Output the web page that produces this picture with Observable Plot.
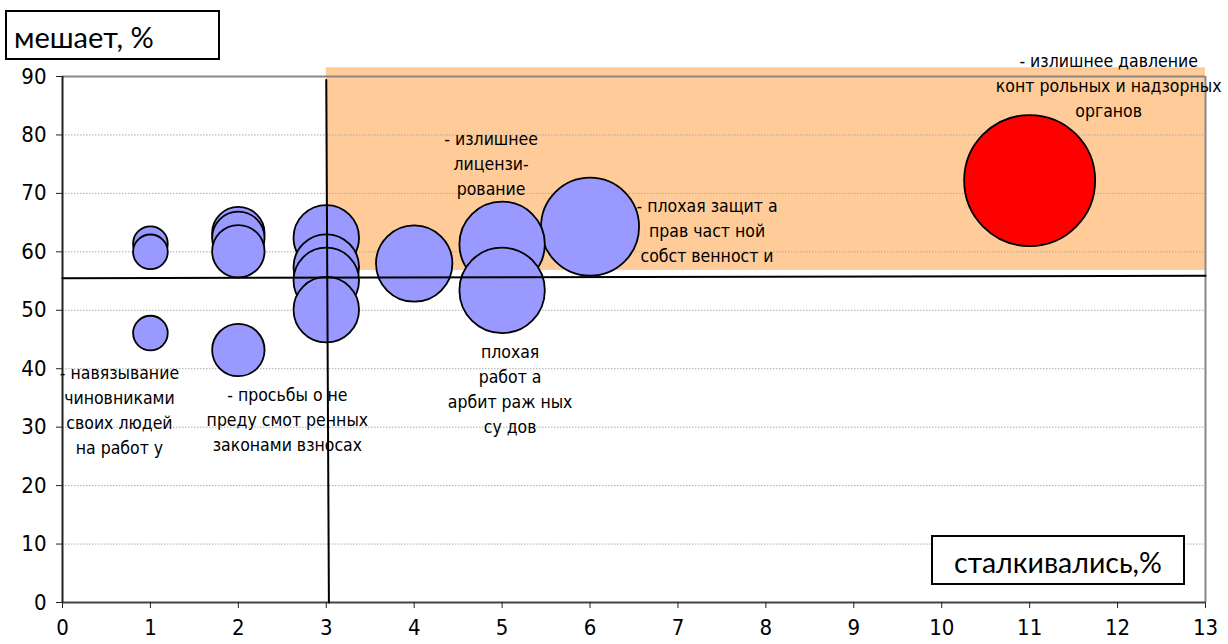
<!DOCTYPE html>
<html>
<head>
<meta charset="utf-8">
<script src="https://cdn.jsdelivr.net/npm/d3@7"></script>
<script src="https://cdn.jsdelivr.net/npm/@observablehq/plot@0.6"></script>
<style>
  html, body { margin: 0; padding: 0; background: #fff; }
  #wrap { position: relative; width: 1228px; height: 644px; overflow: hidden; }
  .axbox { position: absolute; box-sizing: border-box; border: 2px solid #000; background: #fff;
           font-family: Lato, "Open Sans", sans-serif; color: #000; white-space: nowrap; }
</style>
</head>
<body>
<div id="wrap"></div>
<script>
// ---- data ----
const xVals  = [1, 1, 1, 2, 2, 2, 2, 3, 3, 3, 3, 4, 5, 5, 6, 11];
const yVals  = [61.4, 60.0, 46.1, 63.2, 62.4, 60.1, 43.2, 62.4, 57.4, 55.1, 50.1, 58.0, 61.3, 53.4, 64.3, 72.2];
const sizes  = [7, 7, 7, 16, 16, 16, 16, 25, 25, 25, 25, 34, 42.5, 42.5, 56, 100];
const xTicks = [0, 1, 2, 3, 4, 5, 6, 7, 8, 9, 10, 11, 12, 13];
const yTicks = [0, 10, 20, 30, 40, 50, 60, 70, 80, 90];
const zoneX  = [3, 13];        // highlighted zone
const zoneY  = [56.8, 91.5];
const hLineX = [0, 13], hLineY = [55.5, 55.9];
const vLineX = [3, 3.03], vLineY = [89.4, 0];
const yTitle = "мешает, %";
const xTitle = "сталкивались,%";
const labelA = "- навязывание\nчиновниками\nсвоих людей\nна работ у";
const labelB = "- просьбы о не\nпреду смот ренных\nзаконами взносах";
const labelC = "- излишнее\nлицензи-\nрование";
const labelD = "- плохая защит а\nправ част ной\nсобст венност и";
const labelE = "плохая\nработ а\nарбит раж ных\nсу дов";
const labelF = "- излишнее давление\nконт рольных и надзорных\nорганов";

const bubbles = xVals.map((x, i) => ({x, y: yVals[i], size: sizes[i]}));
const maxSize = d3.max(sizes);
const zone = [{x1: zoneX[0], x2: zoneX[1], y1: zoneY[0], y2: zoneY[1]}];
const hLine = hLineX.map((x, i) => ({x, y: hLineY[i]}));
const vLine = vLineX.map((x, i) => ({x, y: vLineY[i]}));

const FONT = "'DejaVu Sans Condensed', 'DejaVu Sans', sans-serif";
const LF = 17.5;
const lbl = (idx, text, dx, dy) => Plot.text([bubbles[idx]], {
  x: "x", y: "y", text: () => text, dx, dy,
  lineAnchor: "middle", textAnchor: "middle", lineHeight: 25 / LF,
  fontSize: LF, fontFamily: FONT, fill: "#000"
});

const chart = Plot.plot({
  width: 1228, height: 644,
  marginLeft: 62, marginRight: 23, marginTop: 76, marginBottom: 42,
  style: {background: "transparent", fontFamily: FONT, color: "#000"},
  x: {domain: [0, 13]},
  y: {domain: [0, 90]},
  r: {type: "sqrt", domain: [0, maxSize], range: [0, 65.5]},
  marks: [
    Plot.rect(zone, {x1: "x1", x2: "x2", y1: "y1", y2: "y2", fill: "#FFCC99"}),
    Plot.gridY(yTicks.filter(t => t > 0 && t < 90), {stroke: "#aaa", strokeOpacity: 1, strokeDasharray: "1.5,1.5", strokeWidth: 1}),
    Plot.ruleY([90], {stroke: "#888", strokeWidth: 2}),
    Plot.ruleX([13], {stroke: "#888", strokeWidth: 2}),
    Plot.ruleY([0], {stroke: "#444", strokeWidth: 2}),
    Plot.ruleX([0], {stroke: "#222", strokeWidth: 2}),
    Plot.axisX({ticks: xTicks, tickFormat: d => String(d), tickSize: 6, tickPadding: 11, fontSize: 22, stroke: "#222", label: null}),
    Plot.axisY({ticks: yTicks, tickFormat: d => String(d), tickSize: 6, tickPadding: 10, fontSize: 22, stroke: "#222", label: null}),
    Plot.dot(bubbles, {x: "x", y: "y", r: "size",
      fill: d => d.size === maxSize ? "#FF0000" : "#9999FF", fillOpacity: 1,
      stroke: "#000", strokeWidth: 1.8}),
    Plot.line(hLine, {x: "x", y: "y", stroke: "#000", strokeWidth: 2}),
    Plot.line(vLine, {x: "x", y: "y", stroke: "#000", strokeWidth: 2}),
    lbl(2, labelA, -31, 75),
    lbl(6, labelB, 49, 68),
    lbl(12, labelC, -11, -82),
    lbl(14, labelD, 117, 2),
    lbl(13, labelE, 8, 97),
    lbl(15, labelF, 79, -97)
  ]
});

const wrap = document.getElementById("wrap");
wrap.appendChild(chart);

const b1 = document.createElement("div");
b1.className = "axbox";
Object.assign(b1.style, {left: "5px", top: "10px", width: "215px", height: "50px", fontSize: "29px", lineHeight: "50px", paddingLeft: "7px"});
b1.textContent = yTitle;
wrap.appendChild(b1);

const b2 = document.createElement("div");
b2.className = "axbox";
Object.assign(b2.style, {left: "931px", top: "535px", width: "254px", height: "50px", fontSize: "28.5px", lineHeight: "50px", textAlign: "center"});
b2.textContent = xTitle;
wrap.appendChild(b2);
</script>
</body>
</html>
